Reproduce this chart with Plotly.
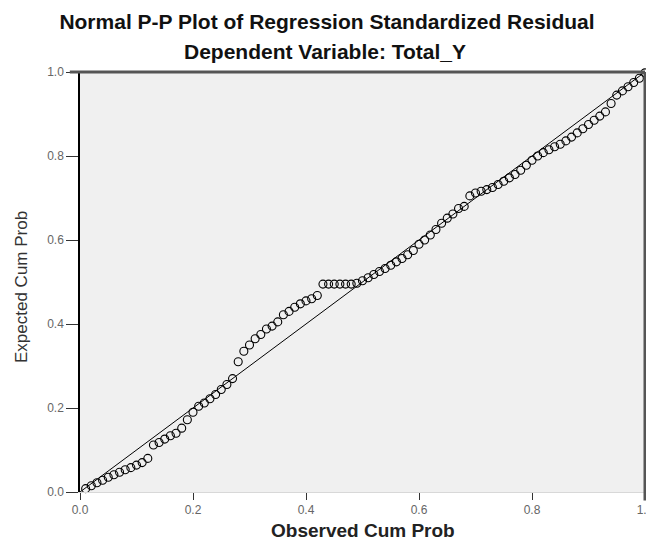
import plotly.graph_objects as go

observed = [0.01, 0.02, 0.03, 0.04, 0.05, 0.06, 0.07, 0.08, 0.09, 0.10,
            0.11, 0.12, 0.13, 0.14, 0.15, 0.16, 0.17, 0.18, 0.19, 0.20,
            0.21, 0.22, 0.23, 0.24, 0.25, 0.26, 0.27, 0.28, 0.29, 0.30,
            0.31, 0.32, 0.33, 0.34, 0.35, 0.36, 0.37, 0.38, 0.39, 0.40,
            0.41, 0.42, 0.43, 0.44, 0.45, 0.46, 0.47, 0.48, 0.49, 0.50,
            0.51, 0.52, 0.53, 0.54, 0.55, 0.56, 0.57, 0.58, 0.59, 0.60,
            0.61, 0.62, 0.63, 0.64, 0.65, 0.66, 0.67, 0.68, 0.69, 0.70,
            0.71, 0.72, 0.73, 0.74, 0.75, 0.76, 0.77, 0.78, 0.79, 0.80,
            0.81, 0.82, 0.83, 0.84, 0.85, 0.86, 0.87, 0.88, 0.89, 0.90,
            0.91, 0.92, 0.93, 0.94, 0.95, 0.96, 0.97, 0.98, 0.99, 1.00]

expected = [0.008, 0.015, 0.022, 0.028, 0.035, 0.041, 0.047, 0.053, 0.058, 0.064,
            0.070, 0.080, 0.112, 0.118, 0.126, 0.134, 0.140, 0.152, 0.172, 0.190,
            0.204, 0.212, 0.222, 0.232, 0.244, 0.256, 0.270, 0.310, 0.335, 0.350,
            0.365, 0.375, 0.388, 0.395, 0.405, 0.422, 0.430, 0.440, 0.448, 0.455,
            0.460, 0.468, 0.495, 0.495, 0.495, 0.495, 0.495, 0.495, 0.497, 0.503,
            0.510, 0.518, 0.525, 0.532, 0.540, 0.548, 0.556, 0.565, 0.575, 0.590,
            0.600, 0.612, 0.625, 0.640, 0.652, 0.662, 0.675, 0.680, 0.705, 0.712,
            0.716, 0.720, 0.725, 0.732, 0.740, 0.748, 0.756, 0.766, 0.778, 0.790,
            0.800, 0.808, 0.815, 0.822, 0.828, 0.836, 0.845, 0.855, 0.865, 0.875,
            0.885, 0.895, 0.905, 0.925, 0.945, 0.955, 0.965, 0.975, 0.985, 0.998]

ref_x = [0.0, 1.0]
ref_y = [0.0, 1.0]

tick_vals = [0.0, 0.2, 0.4, 0.6, 0.8, 1.0]
tick_text = ["0.0", "0.2", "0.4", "0.6", "0.8", "1.0"]

title_text = "Normal P-P Plot of Regression Standardized Residual"
subtitle_text = "Dependent Variable: Total_Y"
x_title = "Observed Cum Prob"
y_title = "Expected Cum Prob"

FONT = "Liberation Sans, Arial, sans-serif"

# the page has an 8px body margin, so figure coordinates = screen - 8
W, H = 646, 537
L, R, T, B = 72, 637, 64, 484

def px_x(p):
    return (p - L) / (R - L)

def px_y(p):
    return (B - p) / (B - T)

fig = go.Figure()
fig.add_trace(go.Scatter(x=ref_x, y=ref_y, mode="lines",
                         line=dict(color="black", width=1), hoverinfo="skip"))
fig.add_trace(go.Scatter(x=observed, y=expected, mode="markers",
                         marker=dict(symbol="circle-open", size=8,
                                     color="black", line=dict(width=1.1)),
                         cliponaxis=False))

fig.update_layout(
    width=W, height=H,
    margin=dict(l=L, r=W - R, t=T, b=H - B, autoexpand=False),
    paper_bgcolor="white", plot_bgcolor="#f0f0f0",
    showlegend=False,
    font=dict(family=FONT, color="#222"),
    title=dict(text="<b>" + title_text + "</b>", x=319 / W, xref="container",
               y=1 - 14 / H, yref="container", xanchor="center", yanchor="middle",
               font=dict(size=21, color="#111", family=FONT)),
    xaxis=dict(range=[0, 1], tickvals=tick_vals, ticktext=tick_text,
               showgrid=False, zeroline=False, ticks="outside", ticklen=7,
               tickcolor="#333", tickfont=dict(size=12, color="#666"),
               showline=True, linecolor="#d8d8d8", linewidth=1),
    yaxis=dict(range=[0, 1], tickvals=tick_vals, ticktext=tick_text,
               showgrid=False, zeroline=False, ticks="outside", ticklen=12,
               tickcolor="#333", tickfont=dict(size=12, color="#666"),
               showline=True, linecolor="black", linewidth=1.5),
    shapes=[
        dict(type="line", xref="paper", yref="paper", x0=-0.018, x1=1.0, y0=1, y1=1,
             line=dict(color="#555", width=3)),
        dict(type="line", xref="paper", yref="paper", x0=1.0, x1=1.0, y0=-0.02, y1=1,
             line=dict(color="#555", width=3)),
    ],
    annotations=[
        dict(text="<b>" + subtitle_text + "</b>", xref="paper", yref="paper",
             x=px_x(317), y=px_y(44), showarrow=False,
             xanchor="center", yanchor="middle",
             font=dict(size=21, color="#111", family=FONT)),
        dict(text="<b>" + x_title + "</b>", xref="paper", yref="paper",
             x=0.5, y=px_y(522), showarrow=False,
             xanchor="center", yanchor="middle",
             font=dict(size=19, color="#222", family=FONT)),
        dict(text=y_title, xref="paper", yref="paper", textangle=-90,
             x=px_x(13), y=px_y(279), showarrow=False,
             xanchor="center", yanchor="middle",
             font=dict(size=17, color="#333", family=FONT)),
    ],
)

fig.write_html("out.html")
